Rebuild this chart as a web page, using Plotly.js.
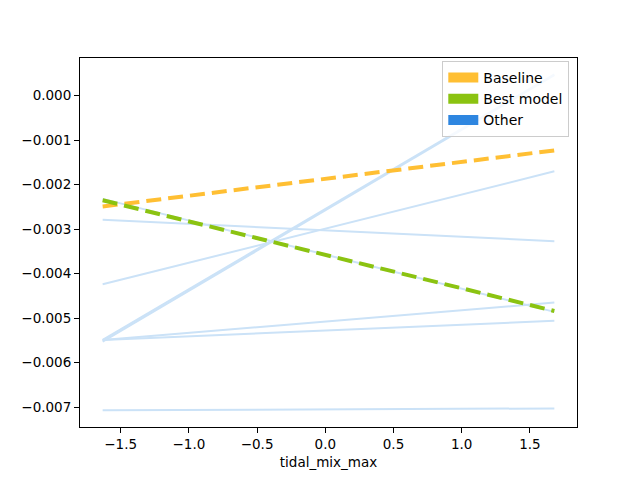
<!DOCTYPE html>
<html>
<head>
<meta charset="utf-8">
<script src="https://cdn.plot.ly/plotly-3.0.1.min.js"></script>
<style>
  html, body { margin: 0; padding: 0; background: #fff; }
  #chart { width: 640px; height: 480px; }
</style>
</head>
<body>
<div id="chart"></div>
<script>
// x end points shared by every line
var xVals = [-1.632, 1.679];

var baseline = [-0.00249, -0.00123];
var bestModel = [-0.00235, -0.00484];

// the other models, one pair of y values each
var others = [
  [-0.00232, -0.00486],
  [-0.00279, -0.00327],
  [-0.00424, -0.00170],
  [-0.00553, 0.00046],
  [-0.00549, 0.00048],
  [-0.00549, -0.00465],
  [-0.00549, -0.00506],
  [-0.00707, -0.00703]
];

var xTicks = [-1.5, -1.0, -0.5, 0.0, 0.5, 1.0, 1.5];
var yTicks = [0.000, -0.001, -0.002, -0.003, -0.004, -0.005, -0.006, -0.007];

var names = ["Baseline", "Best model", "Other"];
var colors = ["#ffbf33", "#8bc311", "#2e86e0"];
var otherLine = "rgb(203,226,247)";

var traces = [];

others.forEach(function(o) {
  traces.push({
    x: xVals, y: o, mode: "lines", type: "scatter",
    line: { color: otherLine, width: 2 },
    showlegend: false, hoverinfo: "skip"
  });
});

traces.push({
  x: xVals, y: baseline, mode: "lines", type: "scatter",
  line: { color: colors[0], width: 4, dash: "15px,7px" },
  showlegend: false
});
traces.push({
  x: xVals, y: bestModel, mode: "lines", type: "scatter",
  line: { color: colors[1], width: 4, dash: "15px,7px" },
  showlegend: false
});

// legend entries drawn as filled patches
for (var i = 0; i < names.length; i++) {
  traces.push({
    x: [null], y: [null], mode: "lines", type: "scatter",
    name: names[i],
    line: { color: colors[i], width: 10 }
  });
}

var axisCommon = {
  showline: true, mirror: true, linecolor: "#000", linewidth: 1,
  ticks: "outside", ticklen: 5, tickwidth: 1, tickcolor: "#000",
  showgrid: false, zeroline: false,
  tickfont: { family: "DejaVu Sans", size: 13.5, color: "#000" }
};

var layout = {
  width: 640, height: 480,
  margin: { l: 80, r: 63, t: 58, b: 53 },
  paper_bgcolor: "#fff", plot_bgcolor: "#fff",
  font: { family: "DejaVu Sans", size: 13.5, color: "#000" },
  xaxis: Object.assign({}, axisCommon, {
    range: [-1.798, 1.845],
    tickvals: xTicks, tickformat: ".1f",
    title: { text: "tidal_mix_max", standoff: 6, font: { family: "DejaVu Sans", size: 13.5, color: "#000" } }
  }),
  yaxis: Object.assign({}, axisCommon, {
    range: [-0.007447, 0.000847],
    tickvals: yTicks, tickformat: ".3f"
  }),
  legend: {
    x: 0.9845, y: 0.992, xanchor: "right", yanchor: "top",
    bgcolor: "rgba(255,255,255,0.8)", bordercolor: "#cccccc", borderwidth: 1,
    font: { family: "DejaVu Sans", size: 14, color: "#000" }
  },
  showlegend: true
};

Plotly.newPlot("chart", traces, layout, { staticPlot: true });
</script>
</body>
</html>
